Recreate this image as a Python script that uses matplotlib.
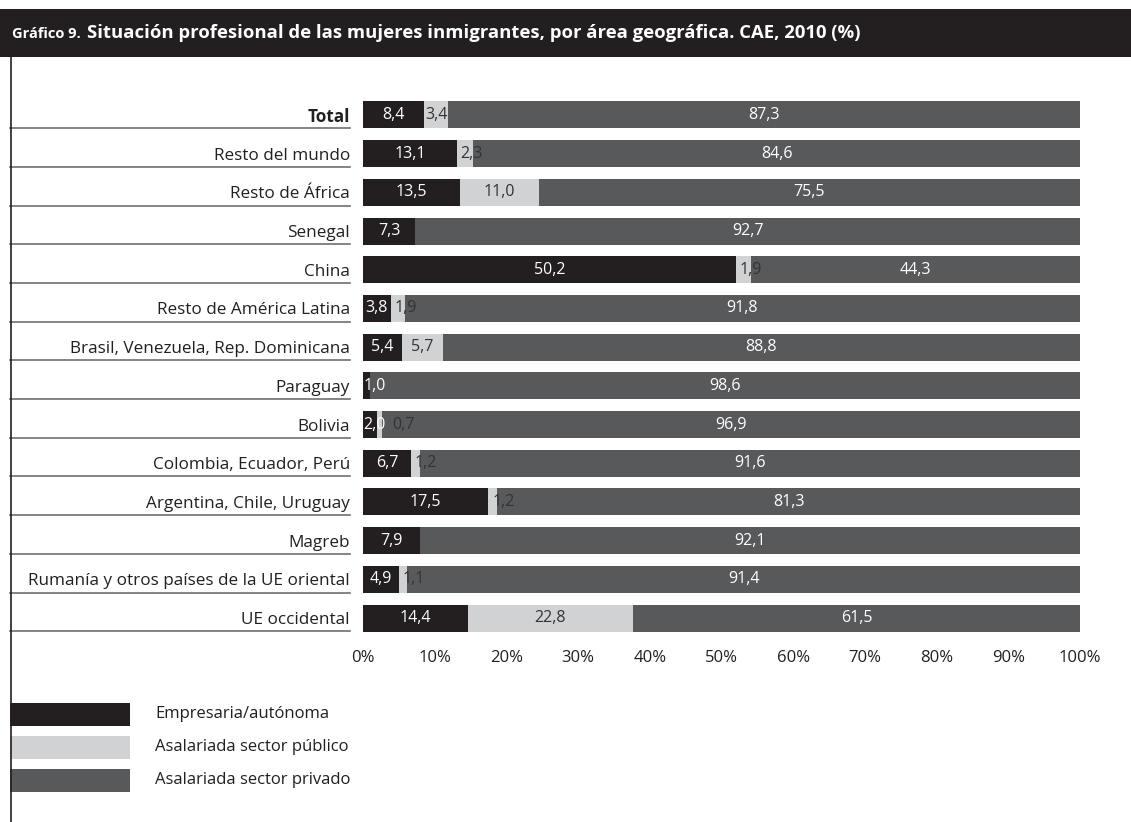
import matplotlib
matplotlib.use("Agg")
import matplotlib.pyplot as plt
from matplotlib.patches import Rectangle
from matplotlib.lines import Line2D
import numpy as np

plt.rcParams['font.family'] = ['Open Sans', 'DejaVu Sans']

categories = ["Total", "Resto del mundo", "Resto de África", "Senegal", "China",
              "Resto de América Latina", "Brasil, Venezuela, Rep. Dominicana",
              "Paraguay", "Bolivia", "Colombia, Ecuador, Perú",
              "Argentina, Chile, Uruguay", "Magreb",
              "Rumanía y otros países de la UE oriental", "UE occidental"]
empresaria = [8.4, 13.1, 13.5, 7.3, 50.2, 3.8, 5.4, 1.0, 2.0, 6.7, 17.5, 7.9, 4.9, 14.4]
publico = [3.4, 2.3, 11.0, 0.0, 1.9, 1.9, 5.7, 0.0, 0.7, 1.2, 1.2, 0.0, 1.1, 22.8]
privado = [87.3, 84.6, 75.5, 92.7, 44.3, 91.8, 88.8, 98.6, 96.9, 91.6, 81.3, 92.1, 91.4, 61.5]
series_names = ["Empresaria/autónoma", "Asalariada sector público", "Asalariada sector privado"]
xticks = [0, 10, 20, 30, 40, 50, 60, 70, 80, 90, 100]
title_prefix = "Gráfico 9."
title_main = "Situación profesional de las mujeres inmigrantes, por área geográfica. CAE, 2010 (%)"

colors = ["#231f20", "#d1d2d4", "#58595b"]
text_colors = ["white", "#333333", "white"]

W, H = 1131, 822
fig = plt.figure(figsize=(W / 100, H / 100), dpi=100)

def fx(px):
    return px / W

def fy(py):
    return 1 - py / H

# title bar
fig.patches.append(Rectangle((0, fy(57)), 1, fy(9) - fy(57), transform=fig.transFigure,
                             facecolor="#231f20", edgecolor="none", zorder=0))
fig.text(fx(12), fy(34), title_prefix, color="white", fontsize=10.5, fontweight="bold",
         va="center", ha="left")
fig.text(fx(87), fy(33), title_main, color="white", fontsize=13.3, fontweight="bold",
         va="center", ha="left")
# left vertical line
fig.lines.append(Line2D([fx(10.5), fx(10.5)], [fy(57), 0], transform=fig.transFigure,
                        color="#231f20", lw=1.2))

n = len(categories)
top_px, bot_px = 95.6, 637.4
ax = fig.add_axes([fx(363), fy(bot_px), fx(1080) - fx(363), (bot_px - top_px) / H])

data = np.array([empresaria, publico, privado])
totals = data.sum(axis=0)
norm = data / totals * 100
y = np.arange(n)
left = np.zeros(n)
bh = 0.70
label_fs = 11.5
row_texts = [[] for _ in range(n)]
for k in range(3):
    ax.barh(y, norm[k], left=left, height=bh, color=colors[k], edgecolor="none")
    for i in range(n):
        v = data[k, i]
        if v <= 0:
            continue
        w = norm[k, i]
        lab = f"{v:.1f}".replace(".", ",")
        if w < 3.0:
            t = ax.text(left[i] + 0.5 if k == 1 else left[i] + 0.1, i, lab, ha="left",
                        va="center", fontsize=label_fs, color=text_colors[k])
            row_texts[i].append((t, True))
        else:
            t = ax.text(left[i] + w / 2, i, lab, ha="center", va="center", fontsize=label_fs,
                        color=text_colors[k])
            row_texts[i].append((t, False))
    left = left + norm[k]

ax.set_xlim(0, 100)
ax.set_ylim(n - 0.5, -0.5)
ax.set_xticks(xticks)
ax.set_xticklabels([f"{t}%" for t in xticks], fontsize=12, color="#231f20")
ax.set_yticks(y)
ax.set_yticklabels(categories, fontsize=12.3, color="#231f20")
ax.get_yticklabels()[0].set_fontweight("bold")
ax.tick_params(axis="both", length=0)
ax.tick_params(axis="y", pad=9.5)
ax.tick_params(axis="x", pad=9)
for s in ax.spines.values():
    s.set_visible(False)

# push small left-aligned labels right if they collide with the previous label
renderer = fig.canvas.get_renderer()
inv = ax.transData.inverted()
for i in range(n):
    prev_end = None
    for t, small in row_texts[i]:
        bb = t.get_window_extent(renderer)
        if small and prev_end is not None and bb.x0 < prev_end + 4:
            x_new = inv.transform((prev_end + 6, 0))[0]
            t.set_x(x_new)
            bb = t.get_window_extent(renderer)
        prev_end = bb.x1

# separator lines under category labels
trans = matplotlib.transforms.blended_transform_factory(ax.transAxes, ax.transData)
x0 = (10 - 363) / 717
x1 = (350 - 363) / 717
for i in range(n):
    ax.add_line(Line2D([x0, x1], [i + bh / 2 - 0.01, i + bh / 2 - 0.01], transform=trans,
                       color="#707070", lw=1.2, clip_on=False))

# legend
leg_y = [714, 747, 780]
for k in range(3):
    fig.patches.append(Rectangle((fx(10), fy(leg_y[k] + 11.5)), fx(130) - fx(10), 23 / H,
                                 transform=fig.transFigure, facecolor=colors[k],
                                 edgecolor="none"))
    fig.text(fx(155), fy(leg_y[k]), series_names[k], fontsize=12, color="#231f20",
             va="center", ha="left")

fig.savefig("out.png", dpi=100)
